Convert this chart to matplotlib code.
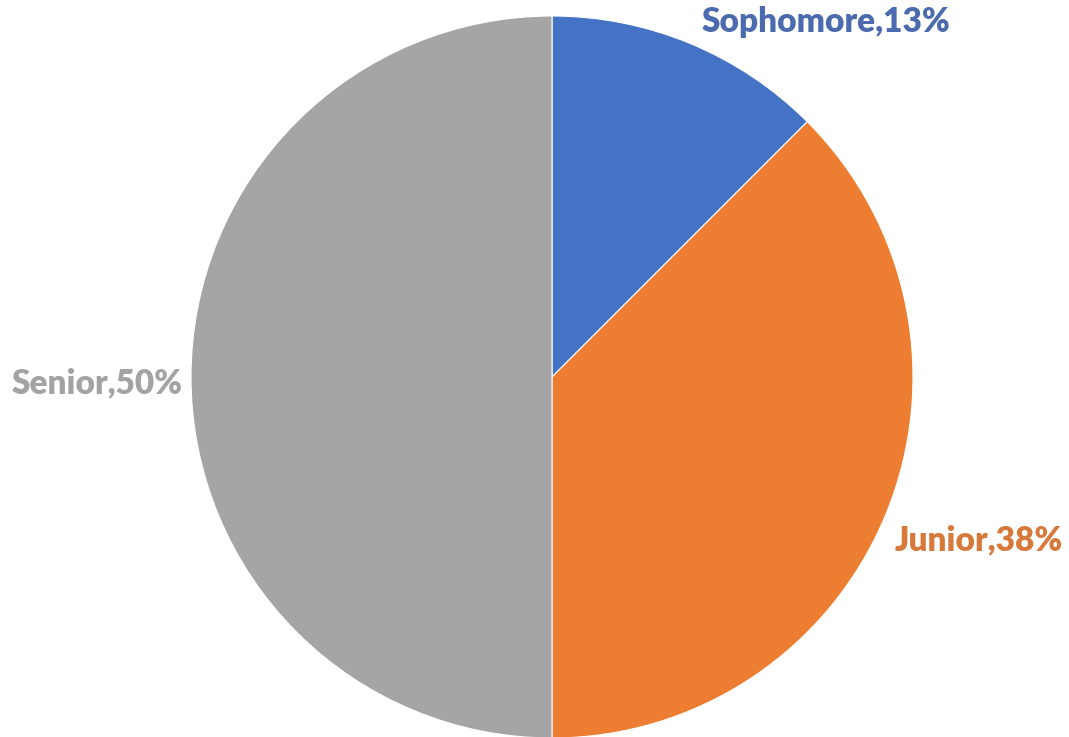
import numpy as np
import matplotlib.pyplot as plt

labels = ["Sophomore", "Junior", "Senior"]
values = [12.5, 37.5, 50.0]
slice_colors = ["#4472C4", "#ED7D31", "#A5A5A5"]
text_colors = ["#4B6BAE", "#D8793C", "#A3A3A3"]
# label anchor points in figure fractions (x, y)
label_pos = [(826 / 1069, 1 - 22 / 737), (979 / 1069, 1 - 540 / 737), (97 / 1069, 1 - 383 / 737)]

W, H = 1069, 737
fig = plt.figure(figsize=(W / 100, H / 100), dpi=100)
fig.patch.set_facecolor("white")

# axes box = pie bounding box (center 552,377, radius 361 px)
cx, cy, r = 552, 377, 361
ax = fig.add_axes([(cx - r) / W, (H - cy - r) / H, 2 * r / W, 2 * r / H])
ax.pie(values, colors=slice_colors, startangle=90, counterclock=False,
       radius=1.0, wedgeprops=dict(edgecolor="white", linewidth=0.8))
ax.set_xlim(-1, 1)
ax.set_ylim(-1, 1)
ax.set_aspect("equal")
ax.axis("off")

total = sum(values)
for lab, v, col, (x, y) in zip(labels, values, text_colors, label_pos):
    pct = int(np.floor(v / total * 100 + 0.5))
    fig.text(x, y, f"{lab},{pct}%", color=col, fontsize=24, fontweight="heavy",
             family=["Lato", "DejaVu Sans"], ha="center", va="center")

fig.savefig("out.png", dpi=100, facecolor="white")
